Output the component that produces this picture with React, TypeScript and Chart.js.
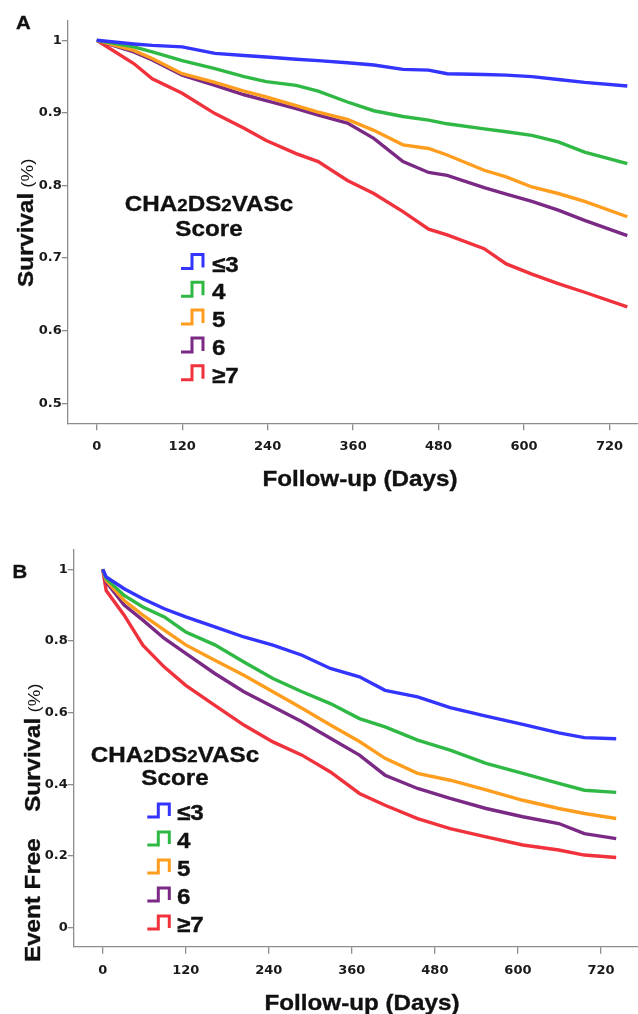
import React, { useEffect, useRef } from "react";
import { Chart, registerables } from "chart.js";

Chart.register(...registerables);

// ---------- data ----------
const groupLabels = ["≤3", "4", "5", "6", "≥7"];
const groupColors = ["#3434ff", "#30b845", "#ff9d1f", "#7a2a84", "#f0323c"];

const xTickValues = [0, 120, 240, 360, 480, 600, 720];
const xTickLabels = ["0", "120", "240", "360", "480", "600", "720"];

// Panel A: overall survival
const daysA = [0, 52, 78, 120, 166, 207, 238, 280, 311, 352, 389, 430, 466, 492, 544, 575, 611, 648, 685, 745];
const survA_le3 = [1, 0.995, 0.993, 0.991, 0.982, 0.979, 0.977, 0.974, 0.972, 0.969, 0.966, 0.960, 0.959, 0.954, 0.953, 0.952, 0.950, 0.946, 0.942, 0.937];
const survA_4 = [1, 0.991, 0.984, 0.972, 0.961, 0.950, 0.943, 0.938, 0.930, 0.915, 0.903, 0.895, 0.890, 0.885, 0.878, 0.874, 0.869, 0.860, 0.846, 0.830];
const survA_5 = [1, 0.986, 0.975, 0.954, 0.942, 0.930, 0.922, 0.910, 0.901, 0.891, 0.876, 0.856, 0.851, 0.842, 0.821, 0.812, 0.798, 0.789, 0.778, 0.757];
const survA_6 = [1, 0.984, 0.973, 0.952, 0.938, 0.925, 0.917, 0.906, 0.897, 0.886, 0.865, 0.833, 0.818, 0.814, 0.797, 0.788, 0.778, 0.766, 0.752, 0.731];
const survA_ge7 = [1, 0.968, 0.947, 0.927, 0.899, 0.879, 0.862, 0.844, 0.833, 0.807, 0.789, 0.764, 0.740, 0.732, 0.713, 0.692, 0.678, 0.665, 0.653, 0.633];
const yTicksA = [0.5, 0.6, 0.7, 0.8, 0.9, 1];
const yTickLabelsA = ["0.5", "0.6", "0.7", "0.8", "0.9", "1"];

// Panel B: event free survival
const daysB = [0, 5, 31, 58, 89, 120, 162, 204, 246, 288, 329, 371, 408, 455, 502, 554, 607, 659, 696, 742];
const efsB_le3 = [1, 0.979, 0.946, 0.918, 0.890, 0.867, 0.839, 0.811, 0.788, 0.760, 0.723, 0.700, 0.662, 0.644, 0.614, 0.590, 0.567, 0.543, 0.530, 0.527];
const efsB_4 = [1, 0.974, 0.927, 0.895, 0.867, 0.825, 0.789, 0.741, 0.695, 0.658, 0.625, 0.583, 0.560, 0.523, 0.495, 0.458, 0.430, 0.402, 0.383, 0.377];
const efsB_5 = [1, 0.969, 0.913, 0.872, 0.830, 0.789, 0.746, 0.704, 0.658, 0.612, 0.565, 0.519, 0.472, 0.430, 0.411, 0.384, 0.355, 0.332, 0.318, 0.304];
const efsB_6 = [1, 0.965, 0.900, 0.858, 0.807, 0.765, 0.709, 0.658, 0.616, 0.574, 0.528, 0.481, 0.425, 0.388, 0.360, 0.332, 0.309, 0.290, 0.262, 0.248];
const efsB_ge7 = [1, 0.941, 0.872, 0.788, 0.727, 0.676, 0.620, 0.565, 0.518, 0.481, 0.434, 0.374, 0.341, 0.304, 0.276, 0.253, 0.230, 0.216, 0.202, 0.195];
const yTicksB = [0, 0.2, 0.4, 0.6, 0.8, 1];
const yTickLabelsB = ["0", "0.2", "0.4", "0.6", "0.8", "1"];

// ---------- drawing helpers ----------
const TITLE_FONT = "'Liberation Sans', Arial, sans-serif";
const SX = 1.1;

type Run = { text: string; size: number; bold?: boolean; gap?: number };

function drawRuns(
  ctx: CanvasRenderingContext2D,
  runs: Run[],
  ox: number,
  oy: number,
  angle: number,
  align: "left" | "center",
  color = "#111"
) {
  ctx.save();
  ctx.translate(ox, oy);
  ctx.rotate(angle);
  ctx.scale(SX, 1);
  ctx.fillStyle = color;
  ctx.strokeStyle = color;
  ctx.lineWidth = 0.35;
  ctx.textAlign = "left";
  ctx.textBaseline = "alphabetic";
  const fontOf = (r: Run) => `${r.bold === false ? "normal" : "bold"} ${r.size}px ${TITLE_FONT}`;
  let total = 0;
  runs.forEach((r) => {
    ctx.font = fontOf(r);
    total += ctx.measureText(r.text).width + (r.gap || 0);
  });
  let cx = align === "center" ? -total / 2 : 0;
  runs.forEach((r) => {
    ctx.font = fontOf(r);
    ctx.fillText(r.text, cx, 0);
    if (r.bold !== false) ctx.strokeText(r.text, cx, 0);
    cx += ctx.measureText(r.text).width + (r.gap || 0);
  });
  ctx.restore();
}

type PanelCfg = {
  days: number[];
  series: number[][];
  yTicks: number[];
  yTickLabels: string[];
  xMin: number;
  xMax: number;
  yMin: number;
  yMax: number;
  areaTop: number;
  areaBottom: number;
  areaLeft: number;
  canvasH: number;
  letter: string;
  letterPos: [number, number];
  xTitlePos: [number, number];
  yTitleStart: [number, number];
  yTitleRuns: Run[];
  legendCenterX: number;
  legendTitleBase: number;
  legendScoreBase: number;
  legendRowBase: number[];
  legendIconX: number;
  legendLabelX: number;
  iconTop: number;
  iconBottom: number;
};

const panelA: PanelCfg = {
  days: daysA,
  series: [survA_le3, survA_4, survA_5, survA_6, survA_ge7],
  yTicks: yTicksA,
  yTickLabels: yTickLabelsA,
  xMin: -41.3,
  xMax: 760,
  yMin: 0.4725,
  yMax: 1.027,
  areaTop: 20.7,
  areaBottom: 423.3,
  areaLeft: 67.3,
  canvasH: 507,
  letter: "A",
  letterPos: [16, 28.5],
  xTitlePos: [360, 486],
  yTitleStart: [33, 287],
  yTitleRuns: [
    { text: "Survival", size: 22 },
    { text: " (%)", size: 17, bold: false },
  ],
  legendCenterX: 209,
  legendTitleBase: 211,
  legendScoreBase: 235.5,
  legendRowBase: [271.5, 299.3, 327.1, 354.9, 382.7],
  legendIconX: 181,
  legendLabelX: 212,
  iconTop: 17,
  iconBottom: 3,
};

const panelB: PanelCfg = {
  days: daysB,
  series: [efsB_le3, efsB_4, efsB_5, efsB_6, efsB_ge7],
  yTicks: yTicksB,
  yTickLabels: yTickLabelsB,
  xMin: -42.5,
  xMax: 773.5,
  yMin: -0.054,
  yMax: 1.054,
  areaTop: 43,
  areaBottom: 439.7,
  areaLeft: 73.3,
  canvasH: 507,
  letter: "B",
  letterPos: [12.5, 71],
  xTitlePos: [362, 503],
  yTitleStart: [40, 455],
  yTitleRuns: [
    { text: "Event Free", size: 22, gap: 24 },
    { text: "Survival", size: 22 },
    { text: " (%)", size: 17, bold: false },
  ],
  legendCenterX: 175,
  legendTitleBase: 254.7,
  legendScoreBase: 278,
  legendRowBase: [312.5, 340.5, 368.5, 396.5, 424.5],
  legendIconX: 147.3,
  legendLabelX: 177,
  iconTop: 15.5,
  iconBottom: 2.5,
};

function makeChart(canvas: HTMLCanvasElement, p: PanelCfg) {
  const decor = {
    id: "decor",
    afterDraw(chart: any) {
      const ctx: CanvasRenderingContext2D = chart.ctx;
      // panel letter
      drawRuns(ctx, [{ text: p.letter, size: 18.5 }], p.letterPos[0], p.letterPos[1], 0, "left");
      // x title
      drawRuns(ctx, [{ text: "Follow-up (Days)", size: 22 }], p.xTitlePos[0], p.xTitlePos[1], 0, "center");
      // y title
      drawRuns(ctx, p.yTitleRuns, p.yTitleStart[0], p.yTitleStart[1], -Math.PI / 2, "left");
      // legend title
      drawRuns(
        ctx,
        [
          { text: "CHA", size: 22 },
          { text: "2", size: 17 },
          { text: "DS", size: 22 },
          { text: "2", size: 17 },
          { text: "VASc", size: 22 },
        ],
        p.legendCenterX,
        p.legendTitleBase,
        0,
        "center"
      );
      drawRuns(ctx, [{ text: "Score", size: 22 }], p.legendCenterX, p.legendScoreBase, 0, "center");
      // legend items
      groupLabels.forEach((lab, i) => {
        const base = p.legendRowBase[i];
        const x0 = p.legendIconX;
        const yt = base - p.iconTop;
        const yb = base - p.iconBottom;
        ctx.save();
        ctx.strokeStyle = groupColors[i];
        ctx.lineWidth = 3;
        ctx.lineCap = "butt";
        ctx.lineJoin = "miter";
        ctx.beginPath();
        ctx.moveTo(x0, yb);
        ctx.lineTo(x0 + 11, yb);
        ctx.lineTo(x0 + 11, yt);
        ctx.lineTo(x0 + 22, yt);
        ctx.lineTo(x0 + 22, yb - 1);
        ctx.stroke();
        ctx.restore();
        drawRuns(ctx, [{ text: lab, size: 22 }], p.legendLabelX, base, 0, "left");
      });
    },
  };

  const datasets = p.series.map((vals, i) => ({
    label: groupLabels[i],
    data: vals.map((v, j) => ({ x: p.days[j], y: v })),
    borderColor: groupColors[i],
    backgroundColor: groupColors[i],
    borderWidth: 3.4,
    pointRadius: 0,
    tension: 0,
    fill: false,
  }));

  const axisColor = "#8d8d8d";
  const tickFont = { family: "'DejaVu Sans', sans-serif", size: 13, weight: "bold" as const };

  return new Chart(canvas, {
    type: "line",
    data: { datasets },
    options: {
      responsive: false,
      animation: false,
      devicePixelRatio: 1,
      layout: { padding: { top: p.areaTop, left: 0, right: 0, bottom: 0 } },
      plugins: { legend: { display: false }, tooltip: { enabled: false }, title: { display: false } },
      scales: {
        x: {
          type: "linear",
          min: p.xMin,
          max: p.xMax,
          afterBuildTicks: (s: any) => {
            s.ticks = xTickValues.map((v) => ({ value: v }));
          },
          afterFit: (s: any) => {
            s.height = p.canvasH - p.areaBottom;
          },
          ticks: {
            autoSkip: false,
            maxRotation: 0,
            padding: 9,
            color: "#1a1a1a",
            font: tickFont,
            callback: (v: any) => {
              const k = xTickValues.indexOf(Number(v));
              return k >= 0 ? xTickLabels[k] : "";
            },
          },
          grid: { drawOnChartArea: false, drawTicks: true, tickLength: 7, color: axisColor, lineWidth: 1.3 },
          border: { display: true, color: axisColor, width: 1.3 },
        },
        y: {
          type: "linear",
          min: p.yMin,
          max: p.yMax,
          afterBuildTicks: (s: any) => {
            s.ticks = p.yTicks.map((v) => ({ value: v }));
          },
          afterFit: (s: any) => {
            s.width = p.areaLeft;
          },
          ticks: {
            autoSkip: false,
            padding: 0,
            color: "#1a1a1a",
            font: tickFont,
            callback: (v: any) => {
              const k = p.yTicks.findIndex((t) => Math.abs(t - Number(v)) < 1e-6);
              return k >= 0 ? p.yTickLabels[k] : "";
            },
          },
          grid: { drawOnChartArea: false, drawTicks: true, tickLength: 5.5, color: axisColor, lineWidth: 1.3 },
          border: { display: true, color: axisColor, width: 1.3 },
        },
      },
    },
    plugins: [decor],
  } as any);
}

export default function App() {
  const refA = useRef<HTMLCanvasElement>(null);
  const refB = useRef<HTMLCanvasElement>(null);

  useEffect(() => {
    const a = makeChart(refA.current!, panelA);
    const b = makeChart(refB.current!, panelB);
    return () => {
      a.destroy();
      b.destroy();
    };
  }, []);

  return (
    <div style={{ position: "absolute", left: 0, top: 0, width: 638, height: 1014, background: "#fff" }}>
      <canvas ref={refA} width={638} height={507} style={{ position: "absolute", left: 0, top: 0, width: 638, height: 507 }} />
      <canvas ref={refB} width={638} height={507} style={{ position: "absolute", left: 0, top: 507, width: 638, height: 507 }} />
    </div>
  );
}
